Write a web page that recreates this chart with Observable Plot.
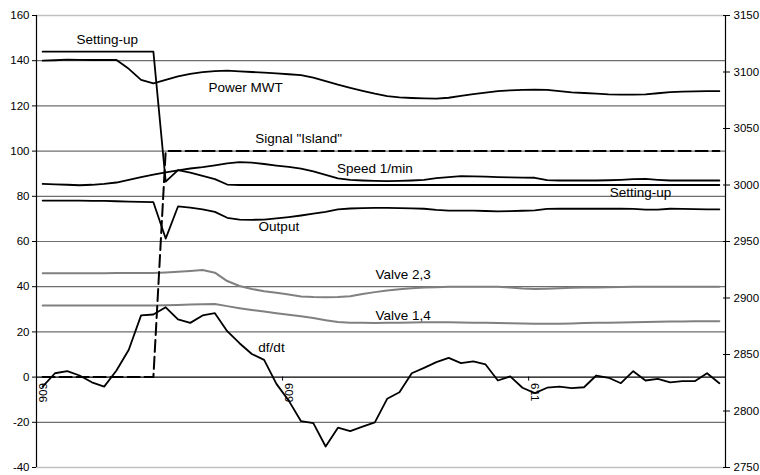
<!DOCTYPE html>
<html>
<head>
<meta charset="utf-8">
<script src="https://cdn.jsdelivr.net/npm/d3@7"></script>
<script src="https://cdn.jsdelivr.net/npm/@observablehq/plot@0.6"></script>
<style>
  html, body { margin: 0; padding: 0; background: #fff; }
  #chart { width: 760px; height: 475px; }
</style>
</head>
<body>
<div id="chart"></div>
<script>
// ---- Data ----
const xTickIndex = [0, 20, 40];
const xTickLabels = ["606", "609", "611"];

const leftTicks = [-40, -20, 0, 20, 40, 60, 80, 100, 120, 140, 160];
const rightTicks = [2750, 2800, 2850, 2900, 2950, 3000, 3050, 3100, 3150];

const settingUp = [144, 144, 144, 144, 144, 144, 144, 144, 144, 144,
  86.5, 91.6, 90.5, 89, 87.6, 85.2, 85, 85, 85, 85,
  85, 85, 85, 85, 85, 85, 85, 85, 85, 85,
  85, 85, 85, 85, 85, 85, 85, 85, 85, 85,
  85, 85, 85, 85, 85, 85, 85, 85, 85, 85,
  85, 85, 85, 85, 85, 85];

const powerMWT = [140, 140.2, 140.5, 140.4, 140.3, 140.3, 140.3, 136.4, 131.5, 130,
  131.5, 133.1, 134.2, 134.9, 135.4, 135.6, 135.3, 135, 134.7, 134.4,
  134, 133.6, 132.5, 131, 129.4, 128, 126.7, 125.4, 124.3, 123.8,
  123.5, 123.3, 123.2, 123.6, 124.4, 125.2, 125.9, 126.5, 126.9, 127.1,
  127.2, 127.1, 126.5, 126, 125.7, 125.4, 125.1, 125, 125, 125.1,
  125.6, 126.1, 126.3, 126.4, 126.5, 126.5];

const signalIsland = [0, 0, 0, 0, 0, 0, 0, 0, 0, 0,
  100, 100, 100, 100, 100, 100, 100, 100, 100, 100,
  100, 100, 100, 100, 100, 100, 100, 100, 100, 100,
  100, 100, 100, 100, 100, 100, 100, 100, 100, 100,
  100, 100, 100, 100, 100, 100, 100, 100, 100, 100,
  100, 100, 100, 100, 100, 100];

const speed = [85.5, 85.3, 85.1, 84.9, 85.1, 85.5, 86.1, 87.3, 88.5, 89.6,
  90.6, 91.5, 92.3, 92.9, 93.7, 94.6, 95.1, 94.9, 94.3, 93.6,
  93, 92.2, 91, 89.5, 87.9, 87.3, 87, 86.8, 86.7, 86.8,
  87, 87.3, 88, 88.5, 88.9, 88.8, 88.7, 88.5, 88.4, 88.3,
  88.2, 87.2, 87, 87, 87, 87, 87.1, 87.3, 87.6, 87.7,
  87.3, 87, 87, 87, 87, 87];

const output = [78.1, 78.1, 78.1, 78.1, 78, 78, 77.8, 77.6, 77.5, 77.4,
  61.3, 75.5, 75, 74.2, 73.1, 70.5, 69.7, 69.6, 69.7, 70.2,
  70.8, 71.5, 72.3, 73.1, 74.2, 74.6, 74.8, 74.9, 74.9, 74.8,
  74.7, 74.5, 74, 73.7, 73.7, 73.7, 73.5, 73.3, 73.4, 73.6,
  73.8, 74.4, 74.5, 74.5, 74.5, 74.5, 74.5, 74.5, 74.4, 74.1,
  74.1, 74.5, 74.4, 74.3, 74.2, 74.2];

const valve23 = [46, 46, 46, 46, 46, 46, 46.1, 46.1, 46.1, 46.1,
  46.3, 46.6, 47, 47.4, 46.2, 42.5, 40.3, 39, 38, 37.3,
  36.5, 35.7, 35.4, 35.3, 35.4, 35.8, 36.8, 37.6, 38.3, 38.9,
  39.3, 39.6, 39.8, 40, 40, 40, 40, 40, 39.6, 39.2,
  39, 39.1, 39.3, 39.5, 39.6, 39.7, 39.8, 39.9, 40, 40,
  40, 40, 40, 40, 40, 40];

const valve14 = [31.7, 31.7, 31.7, 31.7, 31.7, 31.7, 31.7, 31.7, 31.7, 31.7,
  31.8, 31.9, 32.1, 32.2, 32.3, 31.4, 30.5, 29.7, 29, 28.3,
  27.6, 26.9, 26.1, 25.2, 24.4, 24.1, 24, 23.9, 24, 24.1,
  24.2, 24.3, 24.3, 24.3, 24.2, 24.1, 24, 23.9, 23.8, 23.7,
  23.6, 23.6, 23.6, 23.7, 23.9, 24, 24.1, 24.2, 24.3, 24.4,
  24.5, 24.6, 24.6, 24.7, 24.7, 24.7];

const dfdt = [-4.2, 1.7, 2.6, 0.7, -2.3, -4.2, 2.9, 12.1, 27.3, 27.7,
  30.9, 25.5, 24, 27.3, 28.3, 20.3, 15, 10.2, 7.6, -3,
  -10.4, -19.5, -20.4, -30.7, -22.4, -23.9, -21.9, -20, -9.6, -6.7,
  1.7, 4.1, 6.6, 8.5, 6.2, 7, 5.6, -1.5, 0.3, -4.7,
  -7.1, -4.7, -4.2, -4.9, -4.5, 0.7, -0.3, -2.7, 2.6, -1.5,
  -0.8, -2.3, -1.8, -1.8, 1.7, -2.7];

// Series labels: text, anchor category index, anchor value (left axis units)
const labelText = ["Setting-up", "Power MWT", "Signal \"Island\"", "Speed 1/min", "Setting-up", "Output", "Valve 2,3", "Valve 1,4", "df/dt"];
const labelX = [5.25, 16.5, 20.8, 27, 48.6, 19.2, 29.3, 29.3, 18.6];
const labelY = [149.4, 128.1, 105.4, 92.2, 81.4, 66.6, 45.4, 27.3, 13];

// ---- Build ----
const n = dfdt.length;
const leftDomain = [leftTicks[0], leftTicks[leftTicks.length - 1]];
const rightDomain = [rightTicks[0], rightTicks[rightTicks.length - 1]];
const toLeft = r => leftDomain[0] + (r - rightDomain[0]) * (leftDomain[1] - leftDomain[0]) / (rightDomain[1] - rightDomain[0]);
const toRight = l => rightDomain[0] + (l - leftDomain[0]) * (rightDomain[1] - rightDomain[0]) / (leftDomain[1] - leftDomain[0]);
const xDomain = [-0.5, n - 0.5];
const idx = d3.range(n);

const ser = arr => arr.map((v, i) => ({i, v}));
const labels = labelText.map((t, k) => ({t, x: labelX[k], y: labelY[k]}));
const xTicks = xTickIndex.map((i, k) => ({i, label: xTickLabels[k]}));
const xTickMarks = xTickIndex.slice(1).map(i => i - 0.5);
const innerGrid = leftTicks.slice(1, -1).filter(v => v !== 0);
const edgeGrid = [leftTicks[0], leftTicks[leftTicks.length - 1]];

const font = "'Liberation Sans', Arial, Helvetica, sans-serif";

const chart = Plot.plot({
  width: 760,
  height: 475,
  marginLeft: 36,
  marginRight: 35,
  marginTop: 15,
  marginBottom: 8,
  x: {type: "linear", domain: xDomain, axis: null},
  y: {type: "linear", domain: leftDomain, axis: null},
  style: {fontFamily: font, fontSize: "11.5px", background: "#fff", color: "#000", overflow: "visible"},
  marks: [
    Plot.ruleY(edgeGrid, {stroke: "#c0c0c0", strokeWidth: 1.5}),
    Plot.ruleY(innerGrid, {stroke: "#6e6e6e", strokeWidth: 1.2}),
    Plot.ruleY([0], {stroke: "#000", strokeWidth: 1.2}),
    Plot.ruleX(xDomain, {stroke: "#000", strokeWidth: 1.2}),
    Plot.axisY({anchor: "left", ticks: leftTicks, tickSize: 4, tickPadding: 3, fontSize: 11.5, tickFormat: d => String(d)}),
    Plot.axisY({anchor: "right", ticks: rightTicks.map(toLeft), tickSize: 4, tickPadding: 4, fontSize: 11.5, tickFormat: d => String(Math.round(toRight(d)))}),
    Plot.axisY({anchor: "right", ticks: rightTicks.map(toLeft), tickSize: 3, dx: -3, tickFormat: () => ""}),
    Plot.ruleX(xTickMarks, {x: d => d, y1: () => 0, y2: () => 0, insetTop: 0, insetBottom: -4, stroke: "#000"}),
    Plot.text(xTicks, {x: "i", y: () => 0, text: "label", rotate: 90, textAnchor: "start", dy: 6, fontSize: 11.5, fill: "#000"}),
    Plot.line(ser(valve23), {x: "i", y: "v", stroke: "#808080", strokeWidth: 2}),
    Plot.line(ser(valve14), {x: "i", y: "v", stroke: "#808080", strokeWidth: 2}),
    Plot.line(ser(signalIsland), {x: "i", y: "v", stroke: "#000", strokeWidth: 2, strokeDasharray: "12,5"}),
    Plot.line(ser(powerMWT), {x: "i", y: "v", stroke: "#000", strokeWidth: 1.8}),
    Plot.line(ser(speed), {x: "i", y: "v", stroke: "#000", strokeWidth: 1.8}),
    Plot.line(ser(output), {x: "i", y: "v", stroke: "#000", strokeWidth: 1.8}),
    Plot.line(ser(settingUp), {x: "i", y: "v", stroke: "#000", strokeWidth: 1.8}),
    Plot.line(ser(dfdt), {x: "i", y: "v", stroke: "#000", strokeWidth: 1.8}),
    Plot.text(labels, {x: "x", y: "y", text: "t", fontSize: 13.5, fill: "#000"})
  ]
});
document.getElementById("chart").appendChild(chart);
</script>
</body>
</html>
